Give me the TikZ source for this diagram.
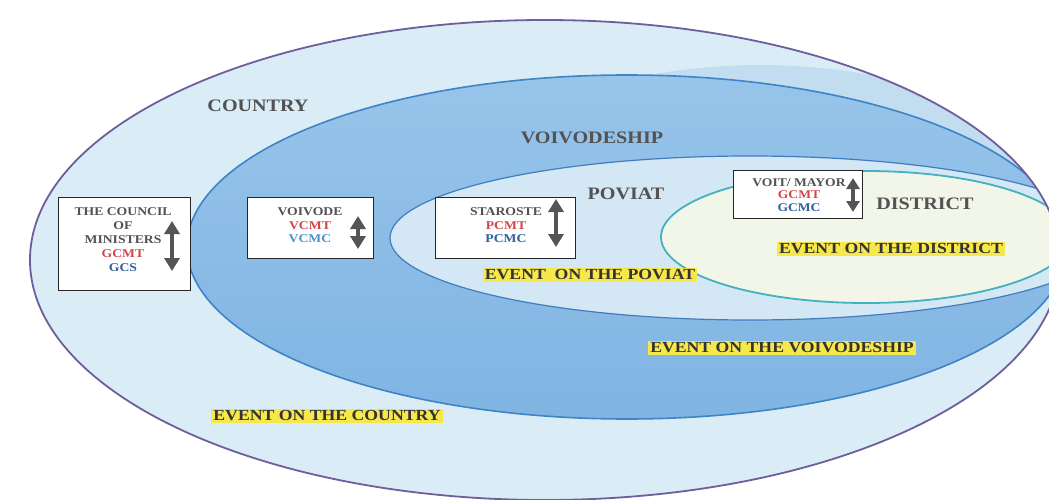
\documentclass[tikz,border=0pt]{standalone}
\usepackage{fontspec}
\setmainfont[FakeStretch=1.15]{Liberation Serif}
\usetikzlibrary{arrows.meta}
\definecolor{outerfill}{HTML}{DAEDF7}
\definecolor{outerline}{HTML}{6E5E9C}
\definecolor{halofill}{HTML}{C2DDF0}
\definecolor{voivtop}{HTML}{97C4EA}
\definecolor{voivbot}{HTML}{80B4E2}
\definecolor{voivline}{HTML}{3E84C6}
\definecolor{povfill}{HTML}{D4E7F4}
\definecolor{povline}{HTML}{3F7DBE}
\definecolor{distfill}{HTML}{F2F6E8}
\definecolor{distline}{HTML}{45B0C0}
\definecolor{labgrey}{HTML}{525252}
\definecolor{txtred}{HTML}{D2454A}
\definecolor{txtblue}{HTML}{2F5F9C}
\definecolor{txtlblue}{HTML}{4C93D2}
\definecolor{hilite}{HTML}{F6E74A}
\definecolor{arrgrey}{HTML}{555555}
\tikzset{
  regionlabel/.style={font=\fontsize{17.5}{20}\selectfont\bfseries, text=labgrey},
  eventlabel/.style={font=\fontsize{15.4}{17}\selectfont\bfseries, text=black!80, fill=hilite, inner xsep=2pt, inner ysep=2pt},
  officebox/.style={draw=black!85, line width=1pt, fill=white, inner sep=0pt},
  officetext/.style={font=\fontsize{11.9}{14}\selectfont\bfseries, text=labgrey, align=center},
  dblarrow/.style={draw=arrgrey, line width=4.5pt, {Triangle[width=15pt,length=13pt]}-{Triangle[width=15pt,length=13pt]}}
}
\begin{document}
\begin{tikzpicture}[x=1pt,y=-1pt]
\useasboundingbox (0,0) rectangle (1049,500);
\fill[white] (0,0) rectangle (1049,500);
\begin{scope}
\clip (0,0) rectangle (1049,500);
% country
\fill[outerfill] (545,260) ellipse [x radius=515pt, y radius=240pt];
\begin{scope}
\clip (545,260) ellipse [x radius=515pt, y radius=240pt];
\begin{scope}
\clip (640,0) rectangle (1049,235);
\fill[halofill] (760,240) ellipse [x radius=330pt, y radius=175pt];
\end{scope}
% voivodeship
\shade[top color=voivtop, bottom color=voivbot] (627,247) ellipse [x radius=440pt, y radius=172pt];
\draw[voivline, line width=1.6pt] (627,247) ellipse [x radius=440pt, y radius=172pt];
% poviat
\draw[povline, line width=1.2pt, fill=povfill] (750,238) ellipse [x radius=360pt, y radius=82pt];
% district
\draw[distline, line width=1.8pt, fill=distfill] (866,237) ellipse [x radius=205pt, y radius=66pt];
\end{scope}
\draw[outerline, line width=1.8pt] (545,260) ellipse [x radius=515pt, y radius=240pt];
\end{scope}

% region labels
\node[regionlabel] (country) at (258,106) {COUNTRY};
\node[regionlabel] (voivodeship) at (592,138) {VOIVODESHIP};
\node[regionlabel] (poviat) at (626,194) {POVIAT};
\node[regionlabel] (district) at (925,204) {DISTRICT};

% event labels
\node[eventlabel] (evdistrict) at (891,249) {EVENT ON THE DISTRICT};
\node[eventlabel] (evpoviat) at (590,275) {EVENT\ \ ON THE POVIAT};
\node[eventlabel] (evvoiv) at (782,348) {EVENT ON THE VOIVODESHIP};
\node[eventlabel] (evcountry) at (327,416) {EVENT ON THE COUNTRY};

% office boxes
\node[officebox, minimum width=132pt, minimum height=93pt] (council) at (124,243.5) {};
\node[officetext] (counciltext) at (123,240) {THE COUNCIL\\OF\\MINISTERS\\\textcolor{txtred}{GCMT}\\\textcolor{txtblue}{GCS}};
\coordinate (ca1) at (172,221);
\coordinate (ca2) at (172,271);
\draw[dblarrow] (ca1) -- (ca2);

\node[officebox, minimum width=126pt, minimum height=61pt] (voivode) at (310,227.5) {};
\node[officetext, font=\fontsize{11.9}{13.5}\selectfont\bfseries] (voivodetext) at (310,225.5) {VOIVODE\\\textcolor{txtred}{VCMT}\\\textcolor{txtlblue}{VCMC}};
\coordinate (va1) at (358,216);
\coordinate (va2) at (358,249);
\draw[dblarrow] (va1) -- (va2);

\node[officebox, minimum width=140pt, minimum height=61pt] (staroste) at (505,227.5) {};
\node[officetext, font=\fontsize{11.9}{13.5}\selectfont\bfseries] (starostetext) at (506,225.5) {STAROSTE\\\textcolor{txtred}{PCMT}\\\textcolor{txtblue}{PCMC}};
\coordinate (sa1) at (556,199);
\coordinate (sa2) at (556,247);
\draw[dblarrow] (sa1) -- (sa2);

\node[officebox, minimum width=129pt, minimum height=48pt] (voit) at (797.5,194) {};
\node[officetext, font=\fontsize{11.8}{12.8}\selectfont\bfseries] (voittext) at (799,195) {VOIT/ MAYOR\\\textcolor{txtred}{GCMT}\\\textcolor{txtblue}{GCMC}};
\coordinate (ma1) at (853,178);
\coordinate (ma2) at (853,212);
\draw[dblarrow, {Triangle[width=13pt,length=11pt]}-{Triangle[width=13pt,length=11pt]}, line width=4pt] (ma1) -- (ma2);
\end{tikzpicture}
\end{document}
